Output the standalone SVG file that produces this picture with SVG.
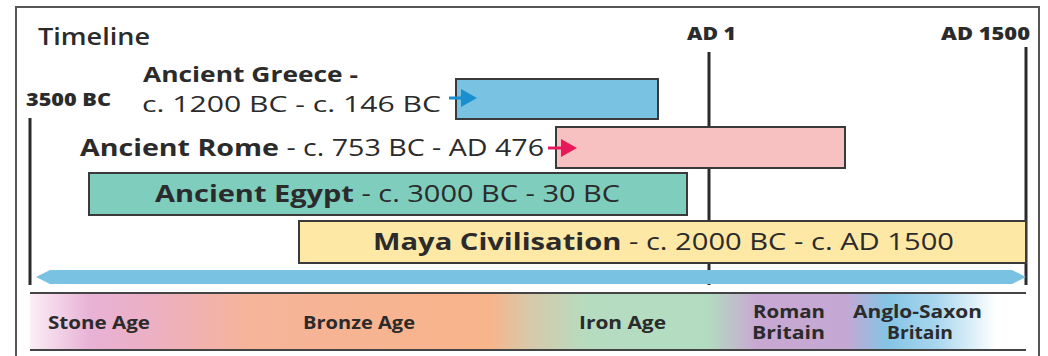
<svg xmlns="http://www.w3.org/2000/svg" width="1048" height="356" viewBox="0 0 1048 356">
<defs>
<style>
text{font-family:"Open Sans","Noto Sans","Liberation Sans",sans-serif;fill:#2b2b2b}
.b{font-weight:700}
.lbl{font-size:24px}
.gr{font-size:22px}
.tick{font-size:18px;font-weight:800}
.band{font-size:17px;font-weight:700}
.box{stroke:#3a3a3a;stroke-width:2}
.vline{stroke:#2b2b2b;stroke-width:3}
</style>
<linearGradient id="ages" x1="30" y1="0" x2="1026" y2="0" gradientUnits="userSpaceOnUse">
<stop offset="0" stop-color="#fbeef6"/>
<stop offset="0.06" stop-color="#e8b2d6"/>
<stop offset="0.12" stop-color="#ecb0c4"/>
<stop offset="0.22" stop-color="#f6b49a"/>
<stop offset="0.46" stop-color="#f8b48a"/>
<stop offset="0.5" stop-color="#d8c8a8"/>
<stop offset="0.56" stop-color="#b6dcc0"/>
<stop offset="0.68" stop-color="#b2dcc0"/>
<stop offset="0.73" stop-color="#c8a8d2"/>
<stop offset="0.82" stop-color="#c4a8d4"/>
<stop offset="0.86" stop-color="#84c4e4"/>
<stop offset="0.91" stop-color="#a8d6ee"/>
<stop offset="0.97" stop-color="#ffffff"/>
<stop offset="1" stop-color="#ffffff"/>
</linearGradient>
</defs>
<rect width="1048" height="356" fill="#ffffff"/>
<path d="M16 356 V7 H1039 V356" fill="none" stroke="#555" stroke-width="2"/>
<text x="38" y="45" style="font-size:24px;font-weight:600" textLength="112" lengthAdjust="spacingAndGlyphs">Timeline</text>

<g id="axis">
<line class="vline" x1="30" y1="118" x2="30" y2="285"/>
<line class="vline" x1="709" y1="52" x2="709" y2="285"/>
<line class="vline" x1="1026" y1="47" x2="1026" y2="285"/>
<text class="tick" x="26" y="106" textLength="85" lengthAdjust="spacingAndGlyphs">3500 BC</text>
<text class="tick" x="687" y="40" textLength="49" lengthAdjust="spacingAndGlyphs">AD 1</text>
<text class="tick" x="941" y="40" textLength="89" lengthAdjust="spacingAndGlyphs">AD 1500</text>
</g>

<g id="greece">
<rect class="box" x="456" y="79" width="202" height="40" fill="#79c2e1"/>
<text class="gr b" x="143" y="82" textLength="215" lengthAdjust="spacingAndGlyphs">Ancient Greece -</text>
<text class="gr" x="142" y="112" textLength="299" lengthAdjust="spacingAndGlyphs">c. 1200 BC - c. 146 BC</text>
</g>

<g id="rome">
<rect class="box" x="556" y="127" width="289" height="41" fill="#f7c1c1"/>
<text class="lbl" x="80" y="156" textLength="464" lengthAdjust="spacingAndGlyphs"><tspan class="b">Ancient Rome</tspan> - c. 753 BC - AD 476</text>
</g>

<g id="egypt">
<rect class="box" x="89" y="173" width="598" height="42" fill="#7ecdbd"/>
<text class="lbl" x="155" y="202" textLength="465" lengthAdjust="spacingAndGlyphs"><tspan class="b">Ancient Egypt</tspan> - c. 3000 BC - 30 BC</text>
</g>

<g id="maya">
<rect class="box" x="299" y="221" width="727" height="42" fill="#fde8a5"/>
<text class="lbl" x="373" y="250" textLength="581" lengthAdjust="spacingAndGlyphs"><tspan class="b">Maya Civilisation</tspan> - c. 2000 BC - c. AD 1500</text>
</g>

<g id="connectors">
<line x1="449" y1="98" x2="464" y2="98" stroke="#1a8fd0" stroke-width="3"/>
<polygon points="461,89 477,98 461,107" fill="#1a8fd0"/>
<line x1="548" y1="148" x2="564" y2="148" stroke="#e8185a" stroke-width="3"/>
<polygon points="561,139 577,148 561,157" fill="#e8185a"/>
<polygon points="36,277 50,270 1012,270 1026,277 1012,284 50,284" fill="#79c2e1"/>
</g>

<g id="ages-band">
<rect x="30" y="293" width="996" height="57" fill="url(#ages)"/>
<line x1="30" y1="293" x2="1026" y2="293" stroke="#444" stroke-width="2"/>
<line x1="30" y1="350" x2="1026" y2="350" stroke="#444" stroke-width="2"/>
<text class="band" x="48" y="329" textLength="102" lengthAdjust="spacingAndGlyphs">Stone Age</text>
<text class="band" x="303" y="329" textLength="112" lengthAdjust="spacingAndGlyphs">Bronze Age</text>
<text class="band" x="579" y="329" textLength="87" lengthAdjust="spacingAndGlyphs">Iron Age</text>
<text class="band" x="753" y="318" textLength="72" lengthAdjust="spacingAndGlyphs">Roman</text>
<text class="band" x="752" y="339" textLength="73" lengthAdjust="spacingAndGlyphs">Britain</text>
<text class="band" x="853" y="318" textLength="129" lengthAdjust="spacingAndGlyphs">Anglo-Saxon</text>
<text class="band" x="887" y="339" textLength="66" lengthAdjust="spacingAndGlyphs">Britain</text>
</g>
</svg>
